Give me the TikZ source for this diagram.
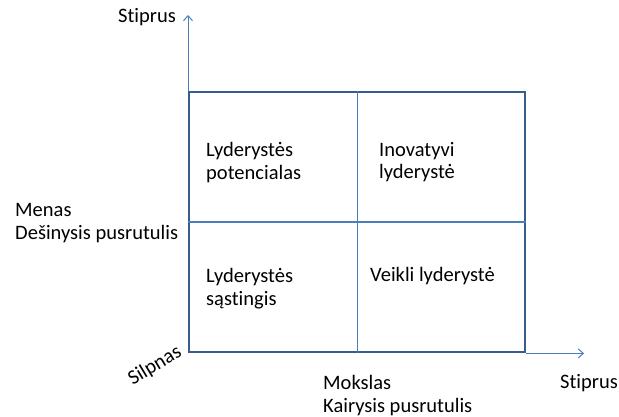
\documentclass[tikz,border=0pt]{standalone}
\usepackage{fontspec}
\setmainfont[Ligatures={NoCommon}]{Carlito}
\usetikzlibrary{arrows.meta}
\definecolor{boxblue}{HTML}{385D8A}
\definecolor{lineblue}{HTML}{4A7EBB}
\begin{document}
\begin{tikzpicture}[x=1pt,y=-1pt,
  lbl/.style={anchor=base west,inner sep=0pt,align=left,font=\fontsize{20.5}{23}\selectfont},
  axis/.style={draw=lineblue,line width=1pt,-{Straight Barb[length=5pt,width=9pt]}},
  divider/.style={draw=lineblue,line width=1.4pt}]
\useasboundingbox (0,0) rectangle (619,417);
\node[draw=boxblue,line width=2.4pt,minimum width=336pt,minimum height=260pt,inner sep=0pt,anchor=north west] (box) at (188,91) {};
\coordinate (top) at (188,15);
\coordinate (right) at (584,351);
\draw[divider] (box.north) -- (box.south);
\draw[divider] (box.west) -- (box.east);
\draw[axis] (box.north west) -- (box.north west |- top);
\draw[axis] (box.south east) -- (box.south east -| right);
\node[lbl] (ys) at (118,23) {Stiprus};
\node[lbl] (xs) at (560,388) {Stiprus};
\node[lbl] (menas) at (15,240) {Menas\\Dešinysis pusrutulis};
\node[lbl] (mokslas) at (323,412) {Mokslas\\Kairysis pusrutulis};
\node[lbl] (q1) at (206,180) {Lyderystės\\potencialas};
\node[lbl] (q2) at (379,179) {Inovatyvi\\lyderystė};
\node[lbl] (q3) at (206,305) {Lyderystės\\sąstingis};
\node[lbl] (q4) at (370,281) {Veikli lyderystė};
\node[font=\fontsize{20.5}{23}\selectfont,inner sep=0pt,rotate=31] (silpnas) at (155,366) {Silpnas};
\end{tikzpicture}
\end{document}
